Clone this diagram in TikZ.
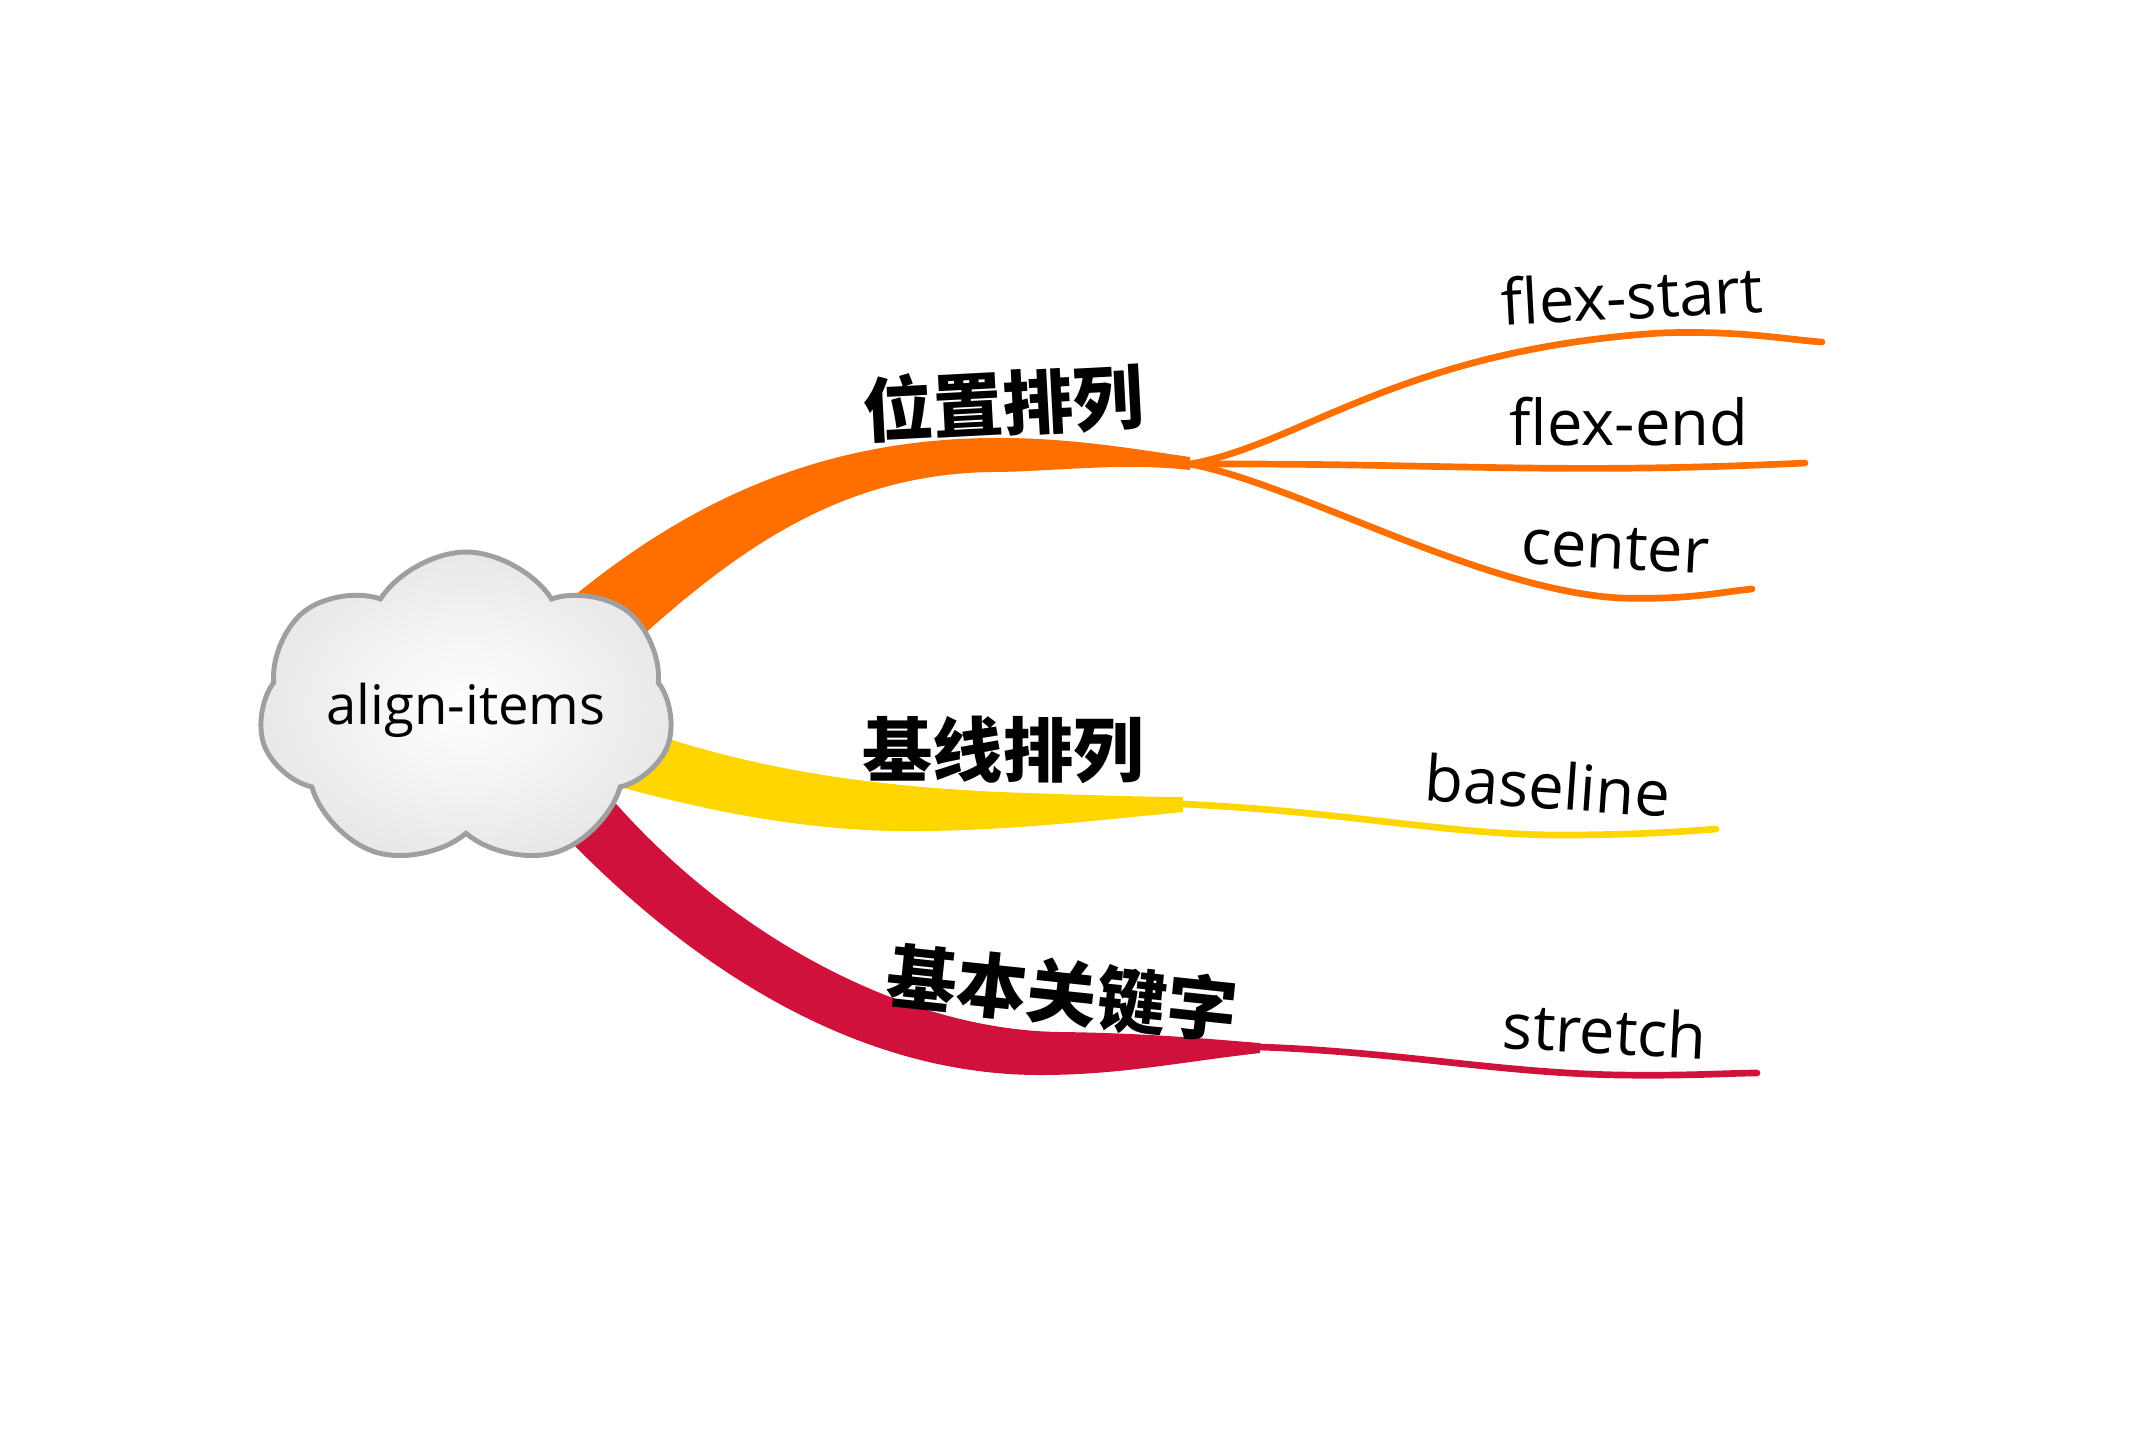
\documentclass[tikz,border=0pt]{standalone}
\usepackage{fontspec}
\setmainfont{Open Sans}
\newfontfamily\cjk{Noto Sans CJK SC}
\usetikzlibrary{shapes.symbols}
\definecolor{brorange}{RGB}{255,111,0}
\definecolor{bryellow}{RGB}{255,214,0}
\definecolor{brred}{RGB}{207,17,60}

\begin{document}
\begin{tikzpicture}[line cap=round,
  leaf/.style={font=\fontsize{18}{20}\selectfont,inner sep=0pt},
  topic/.style={font=\cjk\bfseries\fontsize{20}{22}\selectfont,inner sep=0pt},
  twig/.style={line width=1.9pt}]
\useasboundingbox (0,0) rectangle (21.5,-14.28);
% branch points and leaf ends
\coordinate (pb) at (11.9,-4.64);
\coordinate (bb) at (11.83,-8.04);
\coordinate (kb) at (12.6,-10.47);
\coordinate (fse) at (18.22,-3.42);
\coordinate (fee) at (18.05,-4.63);
\coordinate (fce) at (17.52,-5.89);
\coordinate (bse) at (17.16,-8.29);
\coordinate (ste) at (17.57,-10.73);
% orange band
\fill[brorange] (5.4,-6.25) .. controls (6.8,-5.0) and (8.2,-4.4) .. (9.9,-4.38)
      .. controls (10.7,-4.37) and (11.4,-4.5) .. (11.9,-4.57)
      -- (11.9,-4.70) .. controls (11.2,-4.62) and (10.5,-4.72) .. (9.9,-4.72)
      .. controls (8.3,-4.75) and (7.2,-5.6) .. (5.95,-6.8) -- cycle;
\draw[twig,brorange] (pb) .. controls (13.0,-4.45) and (14.0,-3.5) .. (16.6,-3.33)
      .. controls (17.4,-3.3) and (17.9,-3.4) .. (fse);
\draw[twig,brorange] (pb) .. controls (14.5,-4.63) and (15.5,-4.75) .. (fee);
\draw[twig,brorange] (pb) .. controls (13.0,-4.85) and (14.8,-5.9) .. (16.2,-5.98)
      .. controls (16.9,-6.0) and (17.2,-5.92) .. (fce);
% yellow band
\fill[bryellow] (6.0,-7.15) .. controls (7.3,-7.65) and (8.5,-7.85) .. (10.0,-7.92)
      .. controls (10.8,-7.95) and (11.5,-7.97) .. (11.83,-7.97)
      -- (11.83,-8.12) .. controls (11.0,-8.2) and (10.0,-8.32) .. (9.0,-8.31)
      .. controls (8.0,-8.3) and (7.0,-8.1) .. (5.95,-7.8) -- cycle;
\draw[twig,bryellow] (bb) .. controls (13.5,-8.12) and (14.5,-8.35) .. (15.6,-8.35)
      .. controls (16.4,-8.35) and (16.9,-8.31) .. (bse);
% red band
\fill[brred] (6.0,-7.85) .. controls (7.2,-9.3) and (9.0,-10.3) .. (10.6,-10.32)
      .. controls (11.5,-10.33) and (12.2,-10.4) .. (12.6,-10.43)
      -- (12.6,-10.53) .. controls (11.8,-10.62) and (11.2,-10.75) .. (10.4,-10.75)
      .. controls (8.5,-10.75) and (6.8,-9.6) .. (5.5,-8.2) -- cycle;
\draw[twig,brred] (kb) .. controls (14.0,-10.52) and (15.0,-10.73) .. (16.2,-10.75)
      .. controls (16.9,-10.76) and (17.3,-10.73) .. (ste);
% root
\node[cloud, cloud puffs=7, cloud puff arc=115, aspect=1.6, inner sep=0pt,
      minimum width=3.35cm, minimum height=1.7cm,
      draw=gray!75, line width=1.4pt, inner color=white, outer color=gray!18,
      font=\fontsize{15.5}{17}\selectfont] (root) at (4.66,-7.10) {align-items};
% labels
\node[topic, rotate=3] (pos) at (10.03,-4.03) {位置排列};
\node[topic] (base) at (10.03,-7.50) {基线排列};
\node[topic, rotate=-6] (key) at (10.62,-9.93) {基本关键字};
\node[leaf, rotate=3] (fstart) at (16.32,-2.95) {flex-start};
\node[leaf] (fend) at (16.29,-4.22) {flex-end};
\node[leaf, rotate=-3] (fcenter) at (16.15,-5.48) {center};
\node[leaf, rotate=-4] (fbase) at (15.48,-7.85) {baseline};
\node[leaf, rotate=-3] (fstretch) at (16.05,-10.30) {stretch};
\end{tikzpicture}
\end{document}
